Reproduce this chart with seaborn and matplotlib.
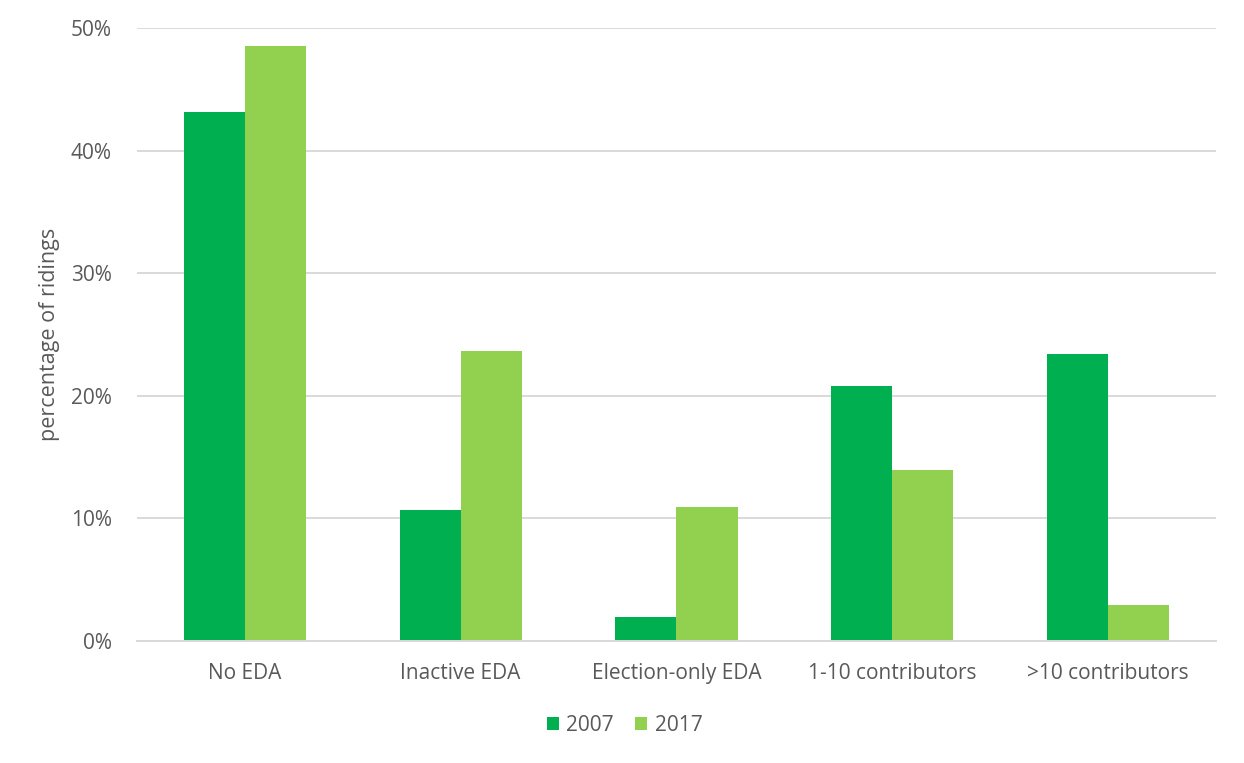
import pandas as pd
import seaborn as sns
from matplotlib import pyplot as plt
from matplotlib.ticker import FuncFormatter

categories = ["No EDA", "Inactive EDA", "Election-only EDA", "1-10 contributors", ">10 contributors"]
years = ["2007", "2017"]
pct_2007 = [43.15, 10.7, 1.96, 20.8, 23.4]
pct_2017 = [48.5, 23.65, 10.9, 13.95, 2.94]

df = pd.DataFrame({
    "category": categories * 2,
    "year": [years[0]] * 5 + [years[1]] * 5,
    "pct": pct_2007 + pct_2017,
})

sns.set_theme(style="white")
plt.rcParams["font.family"] = ["Open Sans", "DejaVu Sans"]
grey = "#595959"
fs = 15

fig = plt.figure(figsize=(12.44, 7.63), dpi=100)
ax = fig.add_axes([0.110, 0.160, 0.8675, 0.8033])
sns.barplot(data=df, x="category", y="pct", hue="year", ax=ax,
            palette=["#00B050", "#92D050"], width=0.566, saturation=1,
            linewidth=0, legend=True)

ax.set_ylim(0, 50)
ax.set_yticks(range(0, 51, 10))
ax.yaxis.set_major_formatter(FuncFormatter(lambda v, p: f"{v:.0f}%"))
ax.grid(axis="y", color="#D9D9D9", linewidth=1.4)
ax.set_axisbelow(True)
for s in ["top", "right", "left"]:
    ax.spines[s].set_visible(False)
ax.spines["bottom"].set_color("#D9D9D9")
ax.spines["bottom"].set_linewidth(1.4)
ax.tick_params(axis="both", colors=grey, labelsize=fs, length=0)
ax.tick_params(axis="x", pad=16)
ax.tick_params(axis="y", pad=18)
ax.set_xlabel("")
ax.set_ylabel("percentage of ridings", color=grey, fontsize=fs + 0.5, labelpad=8)

h, l = ax.get_legend_handles_labels()
ax.get_legend().remove()
fig.legend(h, l, loc="center", bbox_to_anchor=(0.502, 0.049), ncol=2, frameon=False,
           fontsize=fs, labelcolor=grey, handlelength=0.6, handleheight=0.6,
           handletextpad=0.35, columnspacing=1.0)

fig.savefig("out.png", dpi=100)
